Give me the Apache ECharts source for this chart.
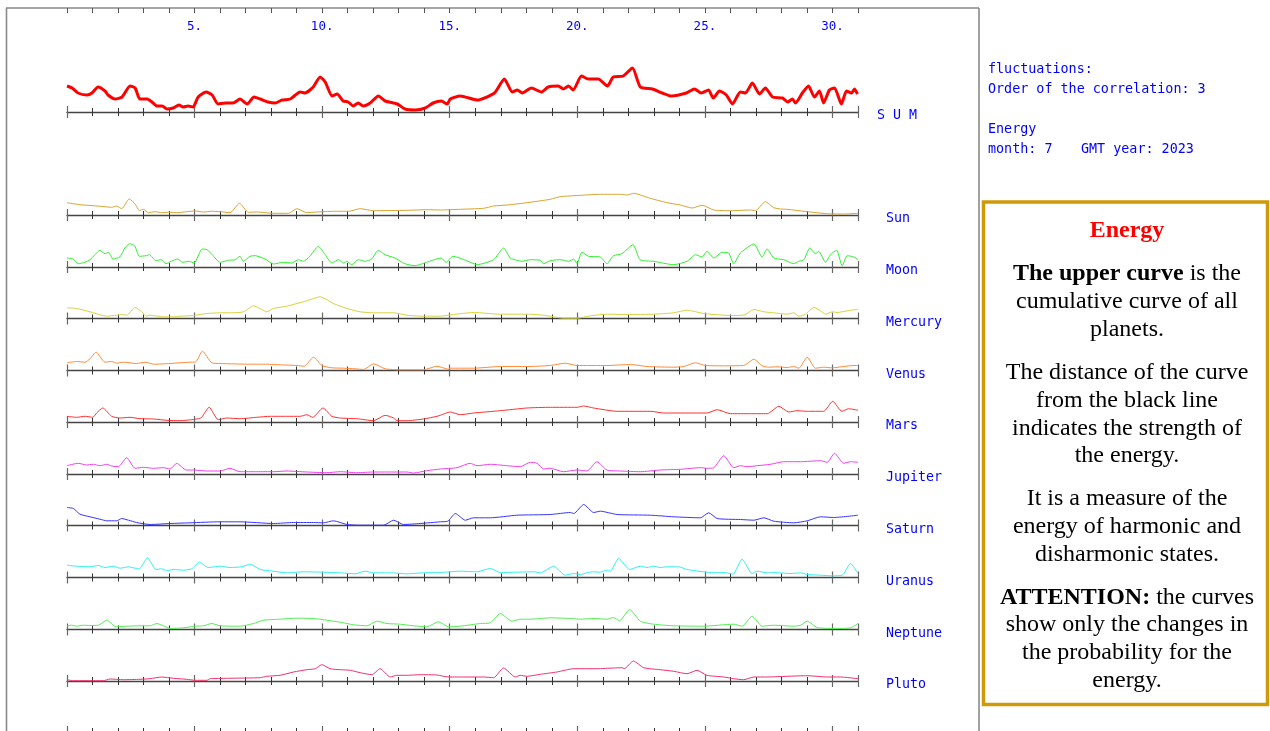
<!DOCTYPE html>
<html><head><meta charset="utf-8">
<script src="https://cdn.jsdelivr.net/npm/echarts@6.0.0/dist/echarts.min.js"></script>
<style>html,body{margin:0;padding:0;background:#fff;}#c{width:1270px;height:731px;}</style>
</head><body><div id="c"></div>
<script>
// ---------------- DATA ----------------
const dayMin = 0, dayMax = 31;
const tickLabels = {5:'5.',10:'10.',15:'15.',20:'20.',25:'25.',30:'30.'};
const rowNames = ['S U M','Sun','Moon','Mercury','Venus','Mars','Jupiter','Saturn','Uranus','Neptune','Pluto'];
const infoLines = ['fluctuations:','Order of the correlation: 3','Energy','month: 7','GMT year: 2023'];

const sumData = [[0,26],[0.2,24],[0.43,19],[0.78,17],[0.98,19],[1.22,25],[1.49,21],[1.61,17],[1.88,13],[2.16,15],[2.47,26],[2.67,24],[2.86,13],[3.14,13],[3.33,10],[3.53,6],[3.73,6],[3.92,3],[4.16,4],[4.39,7],[4.55,5],[4.75,6],[4.94,5],[5.14,15],[5.45,20],[5.69,17],[5.92,8],[6.2,9],[6.51,9],[6.78,13],[7.06,8],[7.33,15],[7.57,13],[7.88,10],[8.16,9],[8.43,12],[8.75,13],[9.14,20],[9.33,19],[9.65,25],[9.92,35],[10.12,30],[10.39,16],[10.59,18],[10.82,11],[11.02,10],[11.22,6],[11.41,9],[11.61,6],[11.88,9],[12.2,16],[12.47,11],[12.94,8],[13.25,3],[13.65,2],[14.04,4],[14.35,9],[14.67,11],[14.9,8],[15.02,13],[15.41,16],[16.08,12],[16.75,19],[17.14,33],[17.45,20],[17.65,22],[17.84,19],[18.2,24],[18.59,20],[18.86,25],[19.25,26],[19.45,23],[19.65,26],[19.84,22],[20.16,36],[20.43,33],[20.82,33],[21.18,26],[21.41,35],[21.8,36],[22.16,44],[22.47,25],[22.94,23],[23.33,19],[23.69,16],[24.27,19],[24.59,23],[24.86,19],[25.14,22],[25.33,14],[25.57,21],[25.84,17],[26.08,8],[26.39,20],[26.59,19],[26.86,29],[27.14,18],[27.37,24],[27.65,15],[28.04,14],[28.24,10],[28.43,13],[28.55,9],[28.82,19],[29.06,26],[29.29,15],[29.49,21],[29.65,9],[29.88,22],[30.08,24],[30.35,8],[30.55,21],[30.75,19],[30.86,23],[30.98,18]];

const sunData = [[0,12.3],[0.51,10.3],[1.03,9.3],[1.49,8.3],[1.75,7.7],[1.95,9],[2.14,6.3],[2.44,16],[2.67,11],[2.84,4.3],[2.99,5.7],[3.19,2.3],[3.45,3.3],[3.71,2.3],[3.97,2.7],[4.3,2.3],[4.69,3.3],[5.02,4],[5.35,3],[5.67,3.7],[6,3.3],[6.39,2.3],[6.76,11.7],[7.11,2.7],[7.44,3],[8.09,1.7],[8.68,1.7],[9.01,6.3],[9.4,2.3],[9.79,3],[10.44,3.7],[11.03,3.7],[11.49,6.3],[12.01,4.3],[13.32,4.7],[14.11,5.3],[14.63,5],[15.41,5.7],[16.33,6.7],[16.72,9],[17.24,10],[18.03,12.3],[18.94,15.7],[19.33,18.3],[20.12,19.7],[20.9,20.7],[21.69,20.7],[21.95,20],[22.21,21.7],[22.47,20],[22.86,16.7],[23.52,12.3],[24.04,10],[24.5,7],[24.89,9.7],[25.35,5],[26,4.3],[26.78,5],[26.98,4.3],[27.37,13.3],[27.7,7.3],[27.96,6],[28.22,5.7],[29.01,3.3],[29.79,1.3],[30.44,1],[31,1.7]];

const moonData = [[0,9],[0.24,8],[0.44,3.3],[0.7,4.7],[0.9,7.3],[1.1,12.3],[1.29,16.7],[1.49,13.3],[1.62,14.7],[1.81,8],[2.07,10],[2.27,19],[2.46,23.3],[2.65,21.3],[2.84,10.7],[3.1,11.3],[3.23,12.3],[3.49,6.3],[3.69,7.3],[3.88,3.3],[4.08,5.7],[4.34,8],[4.53,4.7],[4.79,5.7],[4.98,4],[5.3,18],[5.49,17.3],[5.69,12.3],[6,4.7],[6.33,6.7],[6.59,7.3],[6.78,10.7],[6.91,5.7],[7.17,10.7],[7.37,11.3],[7.76,8],[8.09,3],[8.48,4.7],[8.81,4],[9.07,7.3],[9.26,5.7],[9.52,10.7],[9.85,20.7],[10.12,12.3],[10.38,4],[10.64,7.3],[10.84,4],[10.97,5.7],[11.16,2.3],[11.42,7.3],[11.68,5.7],[11.94,8],[12.2,16.7],[12.46,12.3],[12.85,9],[13.24,3.3],[13.63,1.3],[14.01,4],[14.4,7.3],[14.66,9],[14.86,4.7],[15.12,10.7],[15.67,6.3],[16.07,2.3],[16.72,7.3],[17.11,19],[17.37,9],[17.63,6.7],[17.83,5.7],[18.16,7.3],[18.55,6.7],[18.68,3.3],[18.94,6.3],[19.33,7.3],[19.66,5.7],[19.86,8],[19.99,3.3],[20.18,14.7],[20.44,10.7],[20.9,10],[21.16,3.3],[21.42,11.3],[21.75,13.3],[22.18,22.3],[22.46,7.3],[22.98,5.7],[23.78,2.3],[24.3,5.7],[24.63,12.3],[24.89,10],[25.08,15.7],[25.35,9],[25.67,14.7],[25.93,14],[26.13,3.3],[26.39,14],[26.92,23],[27.24,10],[27.44,18],[27.7,9],[28.09,7.3],[28.48,3.3],[28.68,5.7],[28.88,7.3],[29.11,19],[29.33,13.3],[29.46,15.7],[29.73,4.7],[29.92,12.3],[30.16,16.7],[30.38,1.3],[30.58,11.3],[30.84,10],[31,7.3]];

const mercuryData = [[0,10.7],[0.38,10],[0.9,6.7],[1.56,2.3],[1.95,3.3],[2.14,4],[2.34,3.3],[2.67,11],[2.93,6.7],[3.1,2.3],[3.25,3.3],[3.78,1.7],[4.17,1.7],[4.43,2.3],[4.95,3],[5.48,5],[6,5.7],[6.46,5.7],[6.92,6.7],[7.31,12.7],[7.57,10],[7.83,6.7],[8.09,10],[8.61,12.3],[9.01,15],[9.4,17.7],[9.92,21.7],[10.18,19],[10.44,15],[10.97,10],[11.49,6.7],[12.01,5.7],[12.8,5.7],[13.32,3.3],[13.97,2.3],[14.63,2.3],[15.15,4],[15.93,6],[16.98,4.3],[18.03,4.3],[18.68,3.3],[19.07,1.7],[19.46,0.3],[19.99,0.3],[20.51,2.7],[21.16,4.3],[21.95,4],[22.99,4.3],[23.78,5.7],[24.3,8.3],[24.95,5],[26,3],[26.52,3.3],[26.92,9],[27.31,6.7],[27.7,5.7],[28.22,4.3],[28.48,5.7],[28.68,2.3],[28.94,4.3],[29.27,11],[29.53,7.7],[29.73,4.3],[29.99,6.7],[30.18,6],[30.58,7.7],[31,9.3]];

const venusData = [[0,7.7],[0.38,9],[0.71,8.3],[0.9,11.7],[1.14,18.3],[1.49,8.3],[1.75,9],[1.95,7.3],[2.21,8.3],[2.73,7],[3.06,8.3],[3.39,6.3],[4.04,7],[4.43,7.7],[4.82,8.3],[5.02,8.3],[5.31,19.3],[5.67,7.7],[6,7],[6.39,6.7],[7.05,6.3],[7.83,6.3],[8.35,5.7],[9.01,5],[9.3,4.3],[9.66,13.3],[9.99,5],[10.38,2.7],[10.84,2.3],[11.29,1.7],[11.62,1],[12.01,6.7],[12.47,1.7],[13.06,0.7],[13.97,0.7],[14.5,4.3],[14.95,1.3],[15.02,2.3],[15.93,2.3],[16.98,4],[18.03,4],[18.94,5],[19.53,7.3],[19.99,5],[21.16,5],[22.08,6],[22.73,4],[23.78,3.3],[24.17,4],[24.63,7.7],[25.02,5],[25.74,4.7],[26.52,5],[26.92,11.3],[27.24,4.7],[27.5,3.3],[27.83,3.7],[28.22,3],[28.48,4],[28.68,2.3],[29.01,13.3],[29.33,2.3],[29.65,3.3],[29.99,2.7],[30.44,4],[30.84,5],[31,5]];

const marsData = [[0,5.7],[0.38,4.7],[0.71,5.7],[1.01,4.7],[1.16,9],[1.4,14],[1.75,5.7],[2.08,4],[2.47,4.7],[2.86,3.3],[3.39,3],[3.91,1.7],[4.43,1.3],[4.89,2.3],[5.15,3.3],[5.28,4.7],[5.57,14.7],[5.93,2.3],[6.26,4],[6.78,3.3],[7.44,4.7],[7.96,5.7],[8.61,5.7],[9.14,5.7],[9.4,7.3],[9.63,4.7],[10.03,14],[10.38,5.7],[10.71,4],[11.36,3.3],[12.01,1.3],[12.47,6.7],[12.8,4],[12.93,1.3],[13.32,1.3],[13.97,3],[14.5,5.7],[14.63,6.7],[15.02,10],[15.41,7.3],[15.93,9],[16.98,11.3],[18.03,14],[18.94,14.7],[19.99,14.7],[20.25,16],[20.64,14],[21.56,10.7],[22.86,10.7],[23.39,9],[25.08,9],[25.48,12.3],[26,8.3],[26.78,8.3],[27.44,8.3],[27.9,15.7],[28.29,10],[28.61,11.3],[29.01,10.7],[29.65,10.7],[30.01,20.7],[30.37,10.7],[30.63,13.3],[31,11.7]];

const jupiterData = [[0,8.3],[0.44,10.7],[0.77,9],[1.03,9.7],[1.29,8.3],[1.56,9.7],[1.75,8],[2.01,7.3],[2.34,16.3],[2.67,5.7],[2.99,6.7],[3.39,5.7],[3.78,6.3],[4.04,5],[4.3,10.7],[4.67,4],[4.95,4],[5.48,3],[6,3],[6.39,5.7],[6.78,2.3],[7.44,2.3],[8.09,2.3],[8.61,3],[9.4,2],[10.18,1.3],[10.71,2.3],[11.36,1.3],[12.01,2],[12.67,2],[13.32,2],[13.58,1],[14.1,3.3],[14.63,5],[15.28,6.3],[15.8,10.7],[16.07,8.3],[16.59,9.7],[17.24,8.3],[17.76,7.3],[18.16,11.7],[18.42,10.7],[18.68,5],[18.94,5.7],[19.46,2.3],[19.99,4],[20.38,3],[20.77,12.3],[21.16,4],[21.69,3],[22.47,2.3],[23.25,4],[24.04,4.7],[24.82,6.3],[25.08,5.7],[25.35,6.3],[25.74,18.3],[26.13,6.3],[26.39,8.3],[26.65,7.3],[27.05,8.3],[27.57,9.7],[28.09,12.3],[28.75,12.3],[29.53,13.3],[29.79,11.7],[30.08,20.7],[30.44,10.7],[30.71,12.3],[31,11.7]];

const saturnData = [[0,18],[0.25,17],[0.51,11.3],[0.9,8.7],[1.29,6.3],[1.56,4.7],[1.95,4.7],[2.14,7],[2.41,5.3],[2.73,3],[3.25,1],[4.04,2],[4.82,2.7],[6,3.7],[6.78,3.7],[8.09,2],[8.88,3],[9.66,3],[10.05,2.7],[10.44,4.7],[10.97,1],[11.49,0.3],[12.01,0.3],[12.41,0.3],[12.8,5.3],[13.19,1],[13.84,2],[14.63,3.7],[14.92,4.3],[15.22,12],[15.61,5.3],[15.93,7.7],[16.59,7.7],[17.63,10.3],[18.94,11],[19.73,13],[19.86,12],[20.25,21],[20.64,13],[20.9,14.3],[21.56,11],[22.86,10.3],[23.78,8.7],[24.82,7.7],[25.15,12.7],[25.48,7],[26.39,6],[26.92,5.3],[27.31,7.7],[27.7,4.3],[28.48,2.7],[29.01,4.7],[29.53,8.7],[30.05,8],[31,10.3]];

const uranusData = [[0,12.3],[0.38,11.3],[0.9,10.7],[1.23,12],[1.49,10],[1.82,11.3],[2.08,9.3],[2.41,10.7],[2.67,9.3],[2.84,8.7],[3.15,19.7],[3.49,8],[3.71,8.7],[3.91,6.7],[4.17,8],[4.56,7.3],[4.89,8.7],[5.19,15.3],[5.54,10],[6,11.3],[6.39,10],[6.85,10.7],[7.18,13.3],[7.57,8],[8.09,6.3],[8.61,4.7],[9.27,5.7],[10.05,5.3],[10.71,4.7],[11.29,3.7],[11.69,6.3],[12.01,4.7],[12.67,4.7],[13.32,3.7],[13.97,4.7],[14.63,5],[15.41,6.3],[16.07,5.7],[16.59,9],[16.98,5],[17.63,5.3],[18.29,5.7],[18.55,4.7],[19.07,11.3],[19.53,2.3],[19.86,4],[20.12,3],[20.38,4.7],[20.64,5.7],[20.9,5.3],[21.16,7.3],[21.29,6.3],[21.62,19],[22.05,8],[22.47,11.3],[22.73,10],[22.99,11.3],[23.25,10],[23.52,10.7],[23.97,10.7],[24.3,8],[24.95,5.7],[25.35,4.7],[25.74,5],[25.97,4],[26.1,3.3],[26.46,18.3],[26.85,4],[27.05,6.3],[27.44,4.7],[27.7,5],[28.35,4],[28.75,4.7],[29.01,3],[29.53,2.3],[29.99,1.7],[30.38,2.3],[30.71,14],[31,4]];

const neptuneData = [[0,3.3],[0.18,4.3],[0.38,3.3],[0.64,4.3],[0.9,4],[1.23,4.3],[1.56,9.3],[1.92,2.7],[2.34,3.3],[2.86,3.7],[3.25,3.7],[3.52,6],[3.78,3.7],[4.04,1],[4.56,1.7],[5.02,3.3],[5.35,3.7],[5.67,6],[6,3.7],[6.78,3.3],[7.31,6],[7.7,9.3],[8.35,10.3],[9.01,11.3],[9.66,11],[10.18,9.3],[10.71,7.3],[11.23,4.7],[11.75,3.7],[12.14,8.3],[12.54,6],[13.06,5.3],[13.58,3.7],[14.1,2.7],[14.56,7.7],[14.95,2.7],[15.41,3.3],[16.2,6],[16.59,6.7],[16.98,16],[17.44,8.3],[17.76,10.3],[18.16,10.3],[18.94,11.7],[19.73,11],[20.12,10.3],[20.64,11],[21.16,10.3],[21.42,12],[21.65,8.7],[22.05,20],[22.47,8.3],[22.99,5.3],[23.78,3.7],[24.95,3.3],[26.13,5.3],[26.46,3.3],[26.85,13.3],[27.24,3.3],[27.7,4.3],[28.48,3.3],[28.75,4.3],[29.01,8.3],[29.4,2],[30.05,1],[30.71,1.7],[31,6]];

const plutoData = [[0,1.3],[0.25,0.3],[1.42,0.3],[1.69,2],[2.21,1.3],[2.86,1.7],[3.25,2.3],[3.71,4],[4.17,2.7],[4.69,1.7],[5.02,0.7],[5.48,0.7],[5.61,2.3],[6.26,2.7],[7.05,3],[7.57,3.3],[7.83,4.7],[8.35,5.7],[8.88,9],[9.4,11.3],[9.73,12.3],[9.99,16.3],[10.31,12.3],[10.71,11.3],[11.1,10.7],[11.49,8.3],[11.95,6.3],[12.27,12.3],[12.67,4],[12.93,5.7],[13.32,5.7],[13.84,6.3],[14.5,6],[14.95,4],[15.41,4],[16.33,4],[16.72,3.3],[17.11,13],[17.57,4],[17.76,5.7],[18.03,4.7],[18.55,6.7],[19.2,9],[19.86,12.3],[20.77,12.3],[21.42,13],[21.75,13.3],[21.84,12.3],[22.2,20],[22.6,13.3],[23.25,11.3],[23.78,9.7],[24.3,7.3],[24.69,10.7],[25.08,5.7],[25.74,4],[26.13,2.3],[26.52,1.3],[26.92,4],[27.44,4],[28.22,4.7],[29.01,5.3],[29.79,4],[30.31,4],[31,2.3]];

const rowData = [sumData, sunData, moonData, mercuryData, venusData, marsData, jupiterData, saturnData, uranusData, neptuneData, plutoData];

// ---------------- STYLE / LAYOUT ----------------
const rowColors = ['#ff0000','#daa32e','#2ef02e','#d8d23c','#ff8a38','#ff3030','#f040f0','#3535ff','#30f0f0','#52ee52','#f2306c'];
const rowWidths = [3,1,1,1,1,1,1,1,1,1,1];
const rowBaselines = [112,215,267,318.5,370.5,422,474,525.5,577.5,629.5,681];
const rowHeights = [55,36,36,36,36,36,36,36,36,36,36];
const rowLabelX = [877,886,886,886,886,886,886,886,886,886,886];
const PLOT_LEFT = 67, PLOT_WIDTH = 791;
const MONO = '"DejaVu Sans Mono","Liberation Mono",monospace';
const SERIF = '"Liberation Serif","Times New Roman",serif';
const BLUE = '#0000ff';

const grids = [], xAxes = [], yAxes = [], series = [];

grids.push({left:PLOT_LEFT, width:PLOT_WIDTH, top:8, height:20, outerBoundsMode:'none', containLabel:false});
xAxes.push({gridIndex:0, type:'value', min:dayMin, max:dayMax, interval:1, position:'top',
  axisLine:{show:false, onZero:false},
  axisTick:{show:true, inside:true, length:5, lineStyle:{color:'#555', width:1}},
  axisLabel:{show:true, inside:true, margin:12, color:BLUE, fontFamily:MONO, fontSize:12.5,
    formatter: v => tickLabels[v] || ''},
  splitLine:{show:false}});
yAxes.push({gridIndex:0, type:'value', min:0, max:1, show:false});

function addRow(baseline, h){
  const g = grids.length;
  grids.push({left:PLOT_LEFT, width:PLOT_WIDTH, top:baseline - h, height:h, outerBoundsMode:'none', containLabel:false});
  const base = {gridIndex:g, type:'value', min:dayMin, max:dayMax, axisLabel:{show:false}, splitLine:{show:false}};
  const xi = xAxes.length;
  xAxes.push(Object.assign({}, base, {interval:1, position:'bottom',
    axisLine:{show:true, onZero:false, lineStyle:{color:'#444', width:1.3}},
    axisTick:{show:true, length:4, lineStyle:{color:'#333', width:1}}}));
  xAxes.push(Object.assign({}, base, {interval:1, position:'top', offset:-h,
    axisLine:{show:false, onZero:false},
    axisTick:{show:true, length:4, lineStyle:{color:'#333', width:1}}}));
  xAxes.push(Object.assign({}, base, {interval:5, position:'bottom',
    axisLine:{show:false, onZero:false},
    axisTick:{show:true, length:6, lineStyle:{color:'#666', width:1.2}}}));
  xAxes.push(Object.assign({}, base, {interval:5, position:'top', offset:-h,
    axisLine:{show:false, onZero:false},
    axisTick:{show:true, length:6, lineStyle:{color:'#666', width:1.2}}}));
  yAxes.push({gridIndex:g, type:'value', min:0, max:h, show:false});
  return {xi, yi:g};
}

const TXT_DY = 2;
const graphic = [
  {type:'line', shape:{x1:6, y1:8, x2:979, y2:8}, style:{stroke:'#8a8a8a', lineWidth:1.6}},
  {type:'line', shape:{x1:6.5, y1:8, x2:6.5, y2:740}, style:{stroke:'#8a8a8a', lineWidth:1.6}},
  {type:'line', shape:{x1:979, y1:8, x2:979, y2:740}, style:{stroke:'#8a8a8a', lineWidth:1.6}}
];

rowNames.forEach((nm, i) => {
  const r = addRow(rowBaselines[i], rowHeights[i]);
  series.push({type:'line', name:nm, xAxisIndex:r.xi, yAxisIndex:r.yi, data:rowData[i],
    showSymbol:false, symbol:'none', smooth:0.2, clip:false, silent:true,
    lineStyle:{color:rowColors[i], width:rowWidths[i]}});
  graphic.push({type:'text', style:{text:nm, x:rowLabelX[i], y:rowBaselines[i] + 4, fill:BLUE,
    fontFamily:MONO, fontSize:13.3, verticalAlign:'middle'}});
});
addRow(732, 20);

graphic.push(
  {type:'text', style:{text:infoLines[0], x:988, y:68 + TXT_DY, fill:BLUE, fontFamily:MONO, fontSize:13.4, verticalAlign:'middle'}},
  {type:'text', style:{text:infoLines[1], x:988, y:88 + TXT_DY, fill:BLUE, fontFamily:MONO, fontSize:13.4, verticalAlign:'middle'}},
  {type:'text', style:{text:infoLines[2], x:988, y:128 + TXT_DY, fill:BLUE, fontFamily:MONO, fontSize:13.4, verticalAlign:'middle'}},
  {type:'text', style:{text:infoLines[3], x:988, y:148 + TXT_DY, fill:BLUE, fontFamily:MONO, fontSize:13.4, verticalAlign:'middle'}},
  {type:'text', style:{text:infoLines[4], x:1081, y:148 + TXT_DY, fill:BLUE, fontFamily:MONO, fontSize:13.4, verticalAlign:'middle'}},
  {type:'rect', shape:{x:983.5, y:202, width:284, height:502.5}, style:{fill:'#fff', stroke:'#cf9a08', lineWidth:3.5}}
);
const boxLines = [
  ['{r|Energy}', 229],
  ['{b|The upper curve} is the', 272],
  ['cumulative curve of all', 299.7],
  ['planets.', 327.3],
  ['The distance of the curve', 371],
  ['from the black line', 398.7],
  ['indicates the strength of', 426.3],
  ['the energy.', 454],
  ['It is a measure of the', 497],
  ['energy of harmonic and', 524.7],
  ['disharmonic states.', 552.3],
  ['{b|ATTENTION:} the curves', 595.5],
  ['show only the changes in', 623.2],
  ['the probability for the', 650.8],
  ['energy.', 678.5]
];
boxLines.forEach(([t, y]) => {
  graphic.push({type:'text', z:10, style:{text:t, x:1127, y:y + TXT_DY, align:'center', verticalAlign:'middle',
    fill:'#000', fontFamily:SERIF, fontSize:24,
    rich:{
      b:{fontWeight:'bold', fontFamily:SERIF, fontSize:24, fill:'#000'},
      r:{fontWeight:'bold', fontFamily:SERIF, fontSize:24, fill:'#ff0000'}
    }}});
});

const chart = echarts.init(document.getElementById('c'), null, {renderer:'canvas', width:1270, height:731});
chart.setOption({
  animation:false,
  backgroundColor:'#ffffff',
  grid:grids, xAxis:xAxes, yAxis:yAxes, series:series, graphic:graphic
});
</script>
</body></html>
